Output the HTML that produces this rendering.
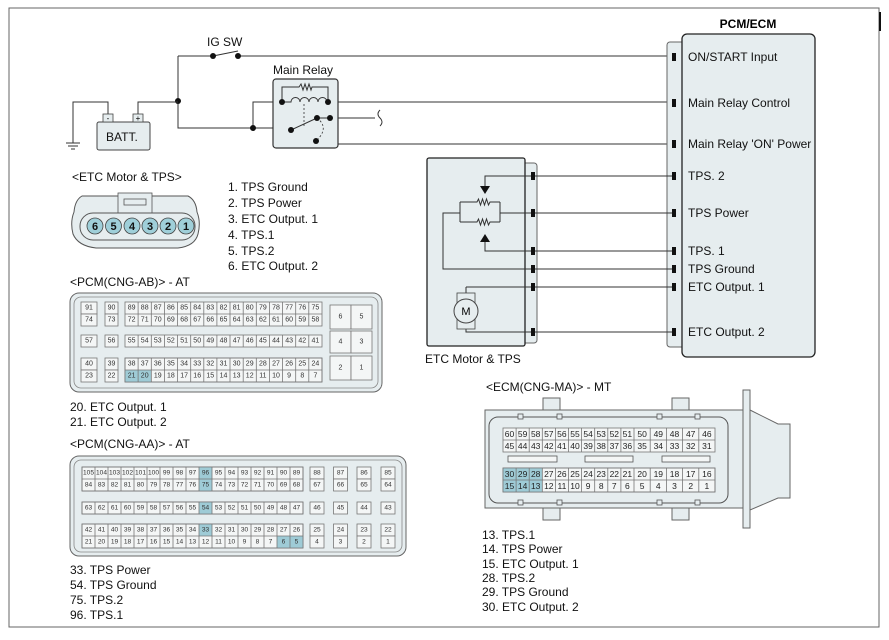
<!DOCTYPE html>
<html><head><meta charset="utf-8"><style>
body{margin:0;background:#fff}
svg{display:block;font-family:"Liberation Sans",Arial,sans-serif}
.t{font-size:12px;fill:#111}
.w{stroke:#333;stroke-width:1;fill:none}
.g{stroke:#777;stroke-width:.8;fill:none}
.ab text{font-size:7px;fill:#333;text-anchor:middle;dominant-baseline:central}
.aa text{font-size:6.6px;fill:#333;text-anchor:middle;dominant-baseline:central}
.ma text{font-size:8.5px;fill:#222;text-anchor:middle;dominant-baseline:central}
.cell{fill:#f4f6f6;stroke:#777;stroke-width:.8}
.hl{fill:#9ecbd6}
</style></head><body>
<svg width="889" height="640" viewBox="0 0 889 640">
<rect x="9" y="8" width="870" height="619" fill="none" stroke="#666" stroke-width="1"/>
<rect x="879" y="12" width="2" height="19" fill="#111"/>

<text class="t" x="207" y="46">IG SW</text>
<path class="w" d="M178,56 H213 M238,56 H672 M213,56 L238,51 M178,56 V128 H291 M253,128 V102 H282 M328,102 H672 M330,118 H375 M330,118 V144 H672"/>
<path class="w" d="M380,110 q-4,4 0,8 q4,4 0,8" />
<circle cx="213" cy="56" r="3" fill="#111"/><circle cx="238" cy="56" r="3" fill="#111"/>
<circle cx="178" cy="101" r="3" fill="#111"/><circle cx="253" cy="128" r="3" fill="#111"/>
<path class="w" d="M108,114 V102 H73 V143 M66,143 H80 M68,146 H78 M71,149 H75 M138,114 V102 H178"/>
<rect x="97" y="122" width="53" height="28" rx="2" fill="#e6edef" stroke="#444"/>
<rect x="103" y="114" width="10" height="8" fill="#e6edef" stroke="#444" stroke-width=".8"/>
<rect x="133" y="114" width="10" height="8" fill="#e6edef" stroke="#444" stroke-width=".8"/>
<text x="108" y="121" font-size="8" text-anchor="middle">-</text><text x="138" y="121" font-size="8" text-anchor="middle">+</text>
<text class="t" x="106" y="141">BATT.</text>
<text class="t" x="273" y="74">Main Relay</text>
<rect x="273" y="79" width="65" height="69" rx="3" fill="#e6edef" stroke="#333" stroke-width="1.2"/>
<path class="w" d="M282,102 V87 H299 l2,-3 l2,6 l2,-6 l2,6 l2,-6 l2,6 l1,-3 H328 V102"/>
<path class="w" d="M282,102 H291 a4.5,4.5 0 0 1 9,0 a4.5,4.5 0 0 1 9,0 a4.5,4.5 0 0 1 9,0 a4.5,4.5 0 0 1 9,0"/>
<path class="w" d="M291,130 L317,118 M317,118 H330" />
<path d="M304,104 V126 M317,118 Q330,128 316,141" stroke="#333" stroke-width=".8" fill="none" stroke-dasharray="2,2"/>
<circle cx="282" cy="102" r="3" fill="#111"/><circle cx="328" cy="102" r="3" fill="#111"/>
<circle cx="291" cy="130" r="3" fill="#111"/><circle cx="317" cy="118" r="3" fill="#111"/>
<circle cx="330" cy="118" r="3" fill="#111"/><circle cx="316" cy="141" r="3" fill="#111"/>

<text x="748" y="28" font-size="12" font-weight="bold" text-anchor="middle">PCM/ECM</text>
<rect x="667" y="42" width="22" height="305" rx="3" fill="#e6edef" stroke="#666"/>
<rect x="682" y="34" width="133" height="323" rx="5" fill="#e6edef" stroke="#222" stroke-width="1.3"/>
<g fill="#111"><rect x="672" y="53" width="4" height="8"/><rect x="672" y="99" width="4" height="8"/><rect x="672" y="140" width="4" height="8"/><rect x="672" y="172" width="4" height="8"/><rect x="672" y="209" width="4" height="8"/><rect x="672" y="247" width="4" height="8"/><rect x="672" y="265" width="4" height="8"/><rect x="672" y="283" width="4" height="8"/><rect x="672" y="328" width="4" height="8"/></g>
<g class="t"><text x="688" y="61">ON/START Input</text><text x="688" y="107">Main Relay Control</text><text x="688" y="148">Main Relay 'ON' Power</text><text x="688" y="180">TPS. 2</text><text x="688" y="217">TPS Power</text><text x="688" y="255">TPS. 1</text><text x="688" y="273">TPS Ground</text><text x="688" y="291">ETC Output. 1</text><text x="688" y="336">ETC Output. 2</text></g>

<rect x="520" y="163" width="17" height="180" rx="3" fill="#e6edef" stroke="#666"/>
<rect x="427" y="158" width="98" height="188" rx="2" fill="#e6edef" stroke="#222" stroke-width="1.3"/>
<g fill="#111"><rect x="531" y="172" width="4" height="8"/><rect x="531" y="209" width="4" height="8"/><rect x="531" y="247" width="4" height="8"/><rect x="531" y="265" width="4" height="8"/><rect x="531" y="283" width="4" height="8"/><rect x="531" y="328" width="4" height="8"/></g>
<path class="w" d="M535,176 H672 M535,213 H672 M535,251 H672 M535,269 H672 M535,287 H672 M535,332 H672"/>
<path class="w" d="M531,176 H485 V186 M460,202 V222 M500,202 V222 M460,202 H477 l1.5,-3 l2,6 l2,-6 l2,6 l2,-6 l2,6 l1.5,-3 H500 M460,222 H477 l1.5,-3 l2,6 l2,-6 l2,6 l2,-6 l2,6 l1.5,-3 H500 M500,213 H531 M460,213 H443 V269 H531 M485,242 V251 H531 M466,287 H531 M466,287 V293 M466,329 V332 H531"/>
<path d="M480,186 H490 L485,194 Z M480,242 H490 L485,234 Z" fill="#111"/>
<rect x="457" y="293" width="18" height="36" fill="#e6edef" stroke="#444" stroke-width=".8"/>
<circle cx="466" cy="311" r="12" fill="#e6edef" stroke="#444"/>
<text x="466" y="315" font-size="11" text-anchor="middle">M</text>
<text class="t" x="425" y="363">ETC Motor &amp; TPS</text>

<text class="t" x="72" y="181">&lt;ETC Motor &amp; TPS&gt;</text>
<path d="M82,196 Q75,200 74,212 Q70,222 73,234 Q78,246 96,248 H178 Q195,246 198,234 Q201,222 197,212 Q196,200 188,196 Z" fill="#e6edef" stroke="#555"/>
<rect x="118" y="193" width="34" height="20" fill="#e6edef" stroke="#555" stroke-width=".8"/>
<rect x="124" y="199" width="22" height="6" fill="none" stroke="#555" stroke-width=".8"/>
<rect x="80" y="213" width="115" height="27" rx="13" fill="#e6edef" stroke="#555"/>
<g fill="#9fcfd9" stroke="#444" stroke-width=".8"><circle cx="95" cy="226" r="8"/><circle cx="113.5" cy="226" r="8"/><circle cx="132" cy="226" r="8"/><circle cx="150" cy="226" r="8"/><circle cx="168" cy="226" r="8"/><circle cx="186" cy="226" r="8"/></g>
<g font-size="11" font-weight="bold" text-anchor="middle" fill="#111"><text x="95" y="230">6</text><text x="113.5" y="230">5</text><text x="132" y="230">4</text><text x="150" y="230">3</text><text x="168" y="230">2</text><text x="186" y="230">1</text></g>
<g class="t"><text x="228" y="191">1. TPS Ground</text><text x="228" y="207">2. TPS Power</text><text x="228" y="223">3. ETC Output. 1</text><text x="228" y="239">4. TPS.1</text><text x="228" y="255">5. TPS.2</text><text x="228" y="270">6. ETC Output. 2</text></g>

<text class="t" x="70" y="286">&lt;PCM(CNG-AB)&gt; - AT</text>
<rect x="70" y="293" width="312" height="99" rx="9" fill="#e6edef" stroke="#666"/>
<rect x="74" y="297" width="304" height="91" rx="7" fill="none" stroke="#888" stroke-width=".8"/>
<g class="ab">
<rect class="cell" x="81" y="302" width="16" height="12"/><rect class="cell" x="81" y="314" width="16" height="12"/>
<rect class="cell" x="105" y="302" width="13" height="12"/><rect class="cell" x="105" y="314" width="13" height="12"/>
<rect class="cell" x="125" y="302" width="197" height="24"/>
<rect class="cell" x="81" y="335" width="16" height="12"/><rect class="cell" x="105" y="335" width="13" height="12"/><rect class="cell" x="125" y="335" width="197" height="12"/>
<rect class="cell" x="81" y="358" width="16" height="12"/><rect class="cell" x="81" y="370" width="16" height="12"/>
<rect class="cell" x="105" y="358" width="13" height="12"/><rect class="cell" x="105" y="370" width="13" height="12"/>
<rect class="cell" x="125" y="358" width="197" height="24"/>
<rect class="hl" x="125" y="370" width="26.3" height="12"/>
<path class="g" d="M125,314H322M125,370H322M138.1,302V326M151.3,302V326M164.4,302V326M177.5,302V326M190.7,302V326M203.8,302V326M216.9,302V326M230,302V326M243.2,302V326M256.3,302V326M269.4,302V326M282.6,302V326M295.7,302V326M308.8,302V326M138.1,335V347M151.3,335V347M164.4,335V347M177.5,335V347M190.7,335V347M203.8,335V347M216.9,335V347M230,335V347M243.2,335V347M256.3,335V347M269.4,335V347M282.6,335V347M295.7,335V347M308.8,335V347M138.1,358V382M151.3,358V382M164.4,358V382M177.5,358V382M190.7,358V382M203.8,358V382M216.9,358V382M230,358V382M243.2,358V382M256.3,358V382M269.4,358V382M282.6,358V382M295.7,358V382M308.8,358V382M125,358H322V382H125Z"/>
<rect class="cell" x="330" y="305" width="21" height="24"/><rect class="cell" x="351" y="305" width="21" height="24"/>
<rect class="cell" x="330" y="331" width="21" height="22"/><rect class="cell" x="351" y="331" width="21" height="22"/>
<rect class="cell" x="330" y="356" width="21" height="24"/><rect class="cell" x="351" y="356" width="21" height="24"/>
<text x="340.5" y="317">6</text><text x="361.5" y="317">5</text><text x="340.5" y="342">4</text><text x="361.5" y="342">3</text><text x="340.5" y="368">2</text><text x="361.5" y="368">1</text>
<text x="89" y="308">91</text><text x="111.5" y="308">90</text><text x="131.6" y="308">89</text><text x="144.7" y="308">88</text><text x="157.8" y="308">87</text><text x="170.9" y="308">86</text><text x="184.1" y="308">85</text><text x="197.2" y="308">84</text><text x="210.3" y="308">83</text><text x="223.5" y="308">82</text><text x="236.6" y="308">81</text><text x="249.7" y="308">80</text><text x="262.9" y="308">79</text><text x="276" y="308">78</text><text x="289.1" y="308">77</text><text x="302.3" y="308">76</text><text x="315.4" y="308">75</text>
<text x="89" y="320">74</text><text x="111.5" y="320">73</text><text x="131.6" y="320">72</text><text x="144.7" y="320">71</text><text x="157.8" y="320">70</text><text x="170.9" y="320">69</text><text x="184.1" y="320">68</text><text x="197.2" y="320">67</text><text x="210.3" y="320">66</text><text x="223.5" y="320">65</text><text x="236.6" y="320">64</text><text x="249.7" y="320">63</text><text x="262.9" y="320">62</text><text x="276" y="320">61</text><text x="289.1" y="320">60</text><text x="302.3" y="320">59</text><text x="315.4" y="320">58</text>
<text x="89" y="341">57</text><text x="111.5" y="341">56</text><text x="131.6" y="341">55</text><text x="144.7" y="341">54</text><text x="157.8" y="341">53</text><text x="170.9" y="341">52</text><text x="184.1" y="341">51</text><text x="197.2" y="341">50</text><text x="210.3" y="341">49</text><text x="223.5" y="341">48</text><text x="236.6" y="341">47</text><text x="249.7" y="341">46</text><text x="262.9" y="341">45</text><text x="276" y="341">44</text><text x="289.1" y="341">43</text><text x="302.3" y="341">42</text><text x="315.4" y="341">41</text>
<text x="89" y="364">40</text><text x="111.5" y="364">39</text><text x="131.6" y="364">38</text><text x="144.7" y="364">37</text><text x="157.8" y="364">36</text><text x="170.9" y="364">35</text><text x="184.1" y="364">34</text><text x="197.2" y="364">33</text><text x="210.3" y="364">32</text><text x="223.5" y="364">31</text><text x="236.6" y="364">30</text><text x="249.7" y="364">29</text><text x="262.9" y="364">28</text><text x="276" y="364">27</text><text x="289.1" y="364">26</text><text x="302.3" y="364">25</text><text x="315.4" y="364">24</text>
<text x="89" y="376">23</text><text x="111.5" y="376">22</text><text x="131.6" y="376">21</text><text x="144.7" y="376">20</text><text x="157.8" y="376">19</text><text x="170.9" y="376">18</text><text x="184.1" y="376">17</text><text x="197.2" y="376">16</text><text x="210.3" y="376">15</text><text x="223.5" y="376">14</text><text x="236.6" y="376">13</text><text x="249.7" y="376">12</text><text x="262.9" y="376">11</text><text x="276" y="376">10</text><text x="289.1" y="376">9</text><text x="302.3" y="376">8</text><text x="315.4" y="376">7</text>
</g>
<g class="t"><text x="70" y="411">20. ETC Output. 1</text><text x="70" y="426">21. ETC Output. 2</text></g>

<text class="t" x="70" y="448">&lt;PCM(CNG-AA)&gt; - AT</text>
<rect x="70" y="456" width="336" height="100" rx="9" fill="#e6edef" stroke="#666"/>
<rect x="74" y="460" width="328" height="92" rx="7" fill="none" stroke="#888" stroke-width=".8"/>
<g class="aa">
<rect class="cell" x="82" y="467" width="221" height="24"/><rect class="cell" x="82" y="502" width="221" height="12"/><rect class="cell" x="82" y="524" width="221" height="24"/>
<rect class="hl" x="199" y="467" width="13" height="24"/><rect class="hl" x="199" y="502" width="13" height="12"/><rect class="hl" x="199" y="524" width="13" height="12"/><rect class="hl" x="277" y="536" width="26" height="12"/>
<path class="g" d="M82,479H303M82,536H303M82,467H303V491H82ZM82,502H303V514H82ZM82,524H303V548H82ZM95,467V491M108,467V491M121,467V491M134,467V491M147,467V491M160,467V491M173,467V491M186,467V491M199,467V491M212,467V491M225,467V491M238,467V491M251,467V491M264,467V491M277,467V491M290,467V491M95,502V514M108,502V514M121,502V514M134,502V514M147,502V514M160,502V514M173,502V514M186,502V514M199,502V514M212,502V514M225,502V514M238,502V514M251,502V514M264,502V514M277,502V514M290,502V514M95,524V548M108,524V548M121,524V548M134,524V548M147,524V548M160,524V548M173,524V548M186,524V548M199,524V548M212,524V548M225,524V548M238,524V548M251,524V548M264,524V548M277,524V548M290,524V548"/>
<rect class="cell" x="310" y="467" width="14" height="12"/><rect class="cell" x="333.5" y="467" width="14" height="12"/><rect class="cell" x="357" y="467" width="14" height="12"/><rect class="cell" x="381" y="467" width="14" height="12"/>
<rect class="cell" x="310" y="479" width="14" height="12"/><rect class="cell" x="333.5" y="479" width="14" height="12"/><rect class="cell" x="357" y="479" width="14" height="12"/><rect class="cell" x="381" y="479" width="14" height="12"/>
<rect class="cell" x="310" y="502" width="14" height="12"/><rect class="cell" x="333.5" y="502" width="14" height="12"/><rect class="cell" x="357" y="502" width="14" height="12"/><rect class="cell" x="381" y="502" width="14" height="12"/>
<rect class="cell" x="310" y="524" width="14" height="12"/><rect class="cell" x="333.5" y="524" width="14" height="12"/><rect class="cell" x="357" y="524" width="14" height="12"/><rect class="cell" x="381" y="524" width="14" height="12"/>
<rect class="cell" x="310" y="536" width="14" height="12"/><rect class="cell" x="333.5" y="536" width="14" height="12"/><rect class="cell" x="357" y="536" width="14" height="12"/><rect class="cell" x="381" y="536" width="14" height="12"/>
<text x="88.5" y="473">105</text><text x="101.5" y="473">104</text><text x="114.5" y="473">103</text><text x="127.5" y="473">102</text><text x="140.5" y="473">101</text><text x="153.5" y="473">100</text><text x="166.5" y="473">99</text><text x="179.5" y="473">98</text><text x="192.5" y="473">97</text><text x="205.5" y="473">96</text><text x="218.5" y="473">95</text><text x="231.5" y="473">94</text><text x="244.5" y="473">93</text><text x="257.5" y="473">92</text><text x="270.5" y="473">91</text><text x="283.5" y="473">90</text><text x="296.5" y="473">89</text><text x="317" y="473">88</text><text x="340.5" y="473">87</text><text x="364" y="473">86</text><text x="388" y="473">85</text>
<text x="88.5" y="485">84</text><text x="101.5" y="485">83</text><text x="114.5" y="485">82</text><text x="127.5" y="485">81</text><text x="140.5" y="485">80</text><text x="153.5" y="485">79</text><text x="166.5" y="485">78</text><text x="179.5" y="485">77</text><text x="192.5" y="485">76</text><text x="205.5" y="485">75</text><text x="218.5" y="485">74</text><text x="231.5" y="485">73</text><text x="244.5" y="485">72</text><text x="257.5" y="485">71</text><text x="270.5" y="485">70</text><text x="283.5" y="485">69</text><text x="296.5" y="485">68</text><text x="317" y="485">67</text><text x="340.5" y="485">66</text><text x="364" y="485">65</text><text x="388" y="485">64</text>
<text x="88.5" y="508">63</text><text x="101.5" y="508">62</text><text x="114.5" y="508">61</text><text x="127.5" y="508">60</text><text x="140.5" y="508">59</text><text x="153.5" y="508">58</text><text x="166.5" y="508">57</text><text x="179.5" y="508">56</text><text x="192.5" y="508">55</text><text x="205.5" y="508">54</text><text x="218.5" y="508">53</text><text x="231.5" y="508">52</text><text x="244.5" y="508">51</text><text x="257.5" y="508">50</text><text x="270.5" y="508">49</text><text x="283.5" y="508">48</text><text x="296.5" y="508">47</text><text x="317" y="508">46</text><text x="340.5" y="508">45</text><text x="364" y="508">44</text><text x="388" y="508">43</text>
<text x="88.5" y="530">42</text><text x="101.5" y="530">41</text><text x="114.5" y="530">40</text><text x="127.5" y="530">39</text><text x="140.5" y="530">38</text><text x="153.5" y="530">37</text><text x="166.5" y="530">36</text><text x="179.5" y="530">35</text><text x="192.5" y="530">34</text><text x="205.5" y="530">33</text><text x="218.5" y="530">32</text><text x="231.5" y="530">31</text><text x="244.5" y="530">30</text><text x="257.5" y="530">29</text><text x="270.5" y="530">28</text><text x="283.5" y="530">27</text><text x="296.5" y="530">26</text><text x="317" y="530">25</text><text x="340.5" y="530">24</text><text x="364" y="530">23</text><text x="388" y="530">22</text>
<text x="88.5" y="542">21</text><text x="101.5" y="542">20</text><text x="114.5" y="542">19</text><text x="127.5" y="542">18</text><text x="140.5" y="542">17</text><text x="153.5" y="542">16</text><text x="166.5" y="542">15</text><text x="179.5" y="542">14</text><text x="192.5" y="542">13</text><text x="205.5" y="542">12</text><text x="218.5" y="542">11</text><text x="231.5" y="542">10</text><text x="244.5" y="542">9</text><text x="257.5" y="542">8</text><text x="270.5" y="542">7</text><text x="283.5" y="542">6</text><text x="296.5" y="542">5</text><text x="317" y="542">4</text><text x="340.5" y="542">3</text><text x="364" y="542">2</text><text x="388" y="542">1</text>
</g>
<g class="t"><text x="70" y="574">33. TPS Power</text><text x="70" y="589">54. TPS Ground</text><text x="70" y="604">75. TPS.2</text><text x="70" y="619">96. TPS.1</text></g>

<text class="t" x="486" y="391">&lt;ECM(CNG-MA)&gt; - MT</text>
<path d="M750,410 L778,424 H790 V498 H778 L750,510 Z" fill="#e6edef" stroke="#666"/>
<path d="M485,410 H743 V508 H485 Z" fill="#e6edef" stroke="#666"/>
<rect x="743" y="390" width="7" height="138" fill="#e6edef" stroke="#666"/>
<rect x="543" y="398" width="17" height="12" fill="#e6edef" stroke="#666"/><rect x="672" y="398" width="17" height="12" fill="#e6edef" stroke="#666"/>
<rect x="543" y="508" width="17" height="12" fill="#e6edef" stroke="#666"/><rect x="672" y="508" width="17" height="12" fill="#e6edef" stroke="#666"/>
<rect x="489" y="417" width="239" height="86" rx="9" fill="none" stroke="#555"/>
<g fill="#e6edef" stroke="#555" stroke-width=".8"><rect x="518" y="414" width="5" height="5"/><rect x="557" y="414" width="5" height="5"/><rect x="657" y="414" width="5" height="5"/><rect x="695" y="414" width="5" height="5"/><rect x="518" y="500" width="5" height="5"/><rect x="557" y="500" width="5" height="5"/><rect x="657" y="500" width="5" height="5"/><rect x="695" y="500" width="5" height="5"/></g>
<g fill="#f4f6f6" stroke="#555" stroke-width=".8"><rect x="508" y="456" width="49" height="6"/><rect x="585" y="456" width="48" height="6"/><rect x="662" y="456" width="48" height="6"/></g>
<g class="ma">
<rect class="cell" x="503" y="428" width="212" height="24"/><rect class="cell" x="503" y="468" width="212" height="24"/>
<rect class="hl" x="503" y="468" width="39.3" height="24"/>
<path class="g" d="M503,440H715M503,480H715M516.1,428V452M529.2,428V452M542.3,428V452M555.4,428V452M568.5,428V452M581.6,428V452M594.7,428V452M607.8,428V452M620.9,428V452M634,428V452M650.2,428V452M666.4,428V452M682.6,428V452M698.8,428V452M516.1,468V492M529.2,468V492M542.3,468V492M555.4,468V492M568.5,468V492M581.6,468V492M594.7,468V492M607.8,468V492M620.9,468V492M634,468V492M650.2,468V492M666.4,468V492M682.6,468V492M698.8,468V492M503,468H715V492H503Z"/>
<text x="509.5" y="434">60</text><text x="522.6" y="434">59</text><text x="535.7" y="434">58</text><text x="548.8" y="434">57</text><text x="561.9" y="434">56</text><text x="575" y="434">55</text><text x="588.1" y="434">54</text><text x="601.2" y="434">53</text><text x="614.3" y="434">52</text><text x="627.4" y="434">51</text><text x="642.1" y="434">50</text><text x="658.3" y="434">49</text><text x="674.5" y="434">48</text><text x="690.7" y="434">47</text><text x="706.9" y="434">46</text>
<text x="509.5" y="446">45</text><text x="522.6" y="446">44</text><text x="535.7" y="446">43</text><text x="548.8" y="446">42</text><text x="561.9" y="446">41</text><text x="575" y="446">40</text><text x="588.1" y="446">39</text><text x="601.2" y="446">38</text><text x="614.3" y="446">37</text><text x="627.4" y="446">36</text><text x="642.1" y="446">35</text><text x="658.3" y="446">34</text><text x="674.5" y="446">33</text><text x="690.7" y="446">32</text><text x="706.9" y="446">31</text>
<text x="509.5" y="474">30</text><text x="522.6" y="474">29</text><text x="535.7" y="474">28</text><text x="548.8" y="474">27</text><text x="561.9" y="474">26</text><text x="575" y="474">25</text><text x="588.1" y="474">24</text><text x="601.2" y="474">23</text><text x="614.3" y="474">22</text><text x="627.4" y="474">21</text><text x="642.1" y="474">20</text><text x="658.3" y="474">19</text><text x="674.5" y="474">18</text><text x="690.7" y="474">17</text><text x="706.9" y="474">16</text>
<text x="509.5" y="486">15</text><text x="522.6" y="486">14</text><text x="535.7" y="486">13</text><text x="548.8" y="486">12</text><text x="561.9" y="486">11</text><text x="575" y="486">10</text><text x="588.1" y="486">9</text><text x="601.2" y="486">8</text><text x="614.3" y="486">7</text><text x="627.4" y="486">6</text><text x="642.1" y="486">5</text><text x="658.3" y="486">4</text><text x="674.5" y="486">3</text><text x="690.7" y="486">2</text><text x="706.9" y="486">1</text>
</g>
<g class="t"><text x="482" y="539">13. TPS.1</text><text x="482" y="553">14. TPS Power</text><text x="482" y="568">15. ETC Output. 1</text><text x="482" y="582">28. TPS.2</text><text x="482" y="596">29. TPS Ground</text><text x="482" y="611">30. ETC Output. 2</text></g>
</svg>
</body></html>
